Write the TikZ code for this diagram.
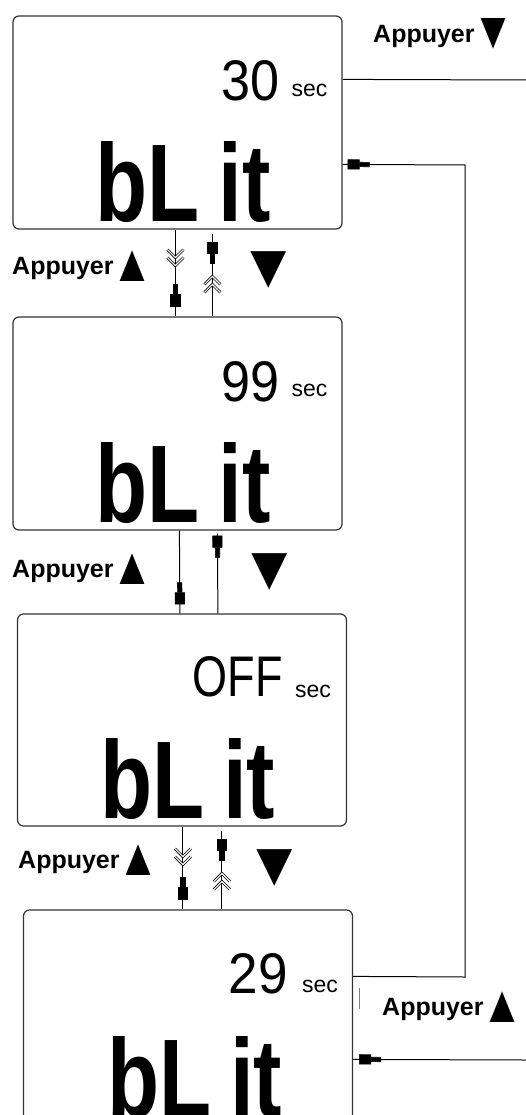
\documentclass[tikz,border=0pt]{standalone}
\usepackage{fontspec}
\setmainfont{Liberation Sans}
\usetikzlibrary{arrows.meta,decorations.markings,calc}
\newcommand\lcdnum[2]{\resizebox{#1}{40pt}{\fontsize{50}{50}\selectfont #2}}
\newcommand\lcdbig{\resizebox{175pt}{80pt}{\fontsize{100}{100}\selectfont\bfseries bL\hspace{0.22em}it}}
\newcommand\uptri{\kern-2pt\raisebox{-7pt}[18pt][7pt]{\scalebox{1.7}[2.1]{▲}}}
\newcommand\dntri{\kern-2pt\raisebox{-6pt}[18pt][6pt]{\scalebox{1.7}[2.1]{▼}}}
\tikzset{
  lcd/.style={draw=black!80, line width=1.2pt, rounded corners=6pt,
    minimum width=329pt, minimum height=213pt, inner sep=0pt},
  conn/.style={draw=black, line width=1pt},
  blk/.style={postaction={decorate, decoration={markings,
    mark=at position -#1 with {\arrow[line width=0.6pt]{Rectangle[length=10pt,width=5pt,sep=0pt]Rectangle[length=12pt,width=10pt,sep=0pt]}}}}},
  chev/.style={postaction={decorate, decoration={markings,
    mark=at position #1 with {\draw[line width=0.8pt, double=white, double distance=1.1pt]
      (-8pt,-8pt) -- (0pt,0pt) -- (-8pt,8pt) (-16pt,-8pt) -- (-8pt,0pt) -- (-16pt,8pt);}}}},
  lbl/.style={font=\bfseries\fontsize{25}{30}\selectfont, inner sep=0pt, anchor=base west},
  tri/.style={inner sep=0pt},
  secl/.style={font=\fontsize{23}{23}\selectfont, inner sep=0pt, anchor=base west},
  numl/.style={inner sep=0pt, anchor=north east},
  bigl/.style={inner sep=0pt, anchor=base west},
}
\begin{document}
\begin{tikzpicture}[x=1pt,y=-1pt]
\useasboundingbox (0,0) rectangle (526,1115);
\clip (0,0) rectangle (526,1115);
% boxes
\node[lcd] (b1) at (177.5,122.5) {};
\node[lcd] (b2) at (177.5,423.5) {};
\node[lcd, minimum height=212pt] (b3) at (182,720) {};
\node[lcd] (b4) at (188,1016.5) {};
% LCD contents
\node[numl] (n1) at ($(b1.north west)+(267,45)$) {\lcdnum{58pt}{30}};
\node[secl] (s1) at ($(b1.north west)+(279,81)$) {sec};
\node[bigl] (t1) at ($(b1.north west)+(83,206)$) {\lcdbig};
\node[numl] (n2) at ($(b2.north west)+(267,45)$) {\lcdnum{58pt}{99}};
\node[secl] (s2) at ($(b2.north west)+(279,80)$) {sec};
\node[bigl] (t2) at ($(b2.north west)+(83,206)$) {\lcdbig};
\node[numl] (n3) at ($(b3.north west)+(266,43)$) {\lcdnum{90pt}{OFF}};
\node[secl] (s3) at ($(b3.north west)+(278,84)$) {sec};
\node[bigl] (t3) at ($(b3.north west)+(83,205)$) {\lcdbig};
\node[numl] (n4) at ($(b4.north west)+(265,44)$) {\lcdnum{59pt}{29}};
\node[secl] (s4) at ($(b4.north west)+(279,83)$) {sec};
\node[bigl] (t4) at ($(b4.north west)+(84,207)$) {\lcdbig};
% labels
\node[lbl] (la) at (373,43) {Appuyer\dntri};
\node[lbl] (l1) at (12,274) {Appuyer\uptri};
\node[lbl] (l2) at (12,577) {Appuyer\uptri};
\node[lbl] (l3) at (18,868) {Appuyer\uptri};
\node[lbl] (lb) at (382,1015) {Appuyer\uptri};
\node[tri] (d1) at (268.5,270) {\scalebox{1.85}[1.9]{\fontsize{33}{33}\selectfont ▼}};
\node[tri] (d2) at (270,572) {\scalebox{1.85}[1.9]{\fontsize{33}{33}\selectfont ▼}};
\node[tri] (d3) at (274.5,868) {\scalebox{1.85}[1.9]{\fontsize{33}{33}\selectfont ▼}};
% coordinates
\coordinate (outT) at (526,80);
\coordinate (loopB) at (465,977);
\coordinate (loopT) at (465,165);
\coordinate (inB) at (526,1060);
% vertical connectors
\draw[conn, chev=36pt, blk=10pt] ($(b1.south west)+(163,0)$) -- ($(b2.north west)+(163,0)$);
\draw[conn, chev=40pt, blk=8pt] ($(b2.north west)+(200,0)$) -- ($(b1.south west)+(200,4)$);
\draw[conn, blk=9pt] ($(b2.south west)+(167,0)$) -- ($(b3.north west)+(163,0)$);
\draw[conn, blk=2pt] ($(b3.north west)+(201,0)$) -- ($(b2.south west)+(205,3)$);
\draw[conn, chev=38pt, blk=10pt] ($(b3.south west)+(166,0)$) -- ($(b4.north west)+(160,0)$);
\draw[conn, chev=36pt, blk=8pt] ($(b4.north west)+(199,0)$) -- ($(b3.south west)+(205,4)$);
% right side connectors
\draw[conn] ($(b1.north east)+(0,64)$) -- (outT);
\draw[conn, blk=5pt] ($(b4.north east)+(0,67)$) -- (loopB) -- (loopT) -- ($(b1.north east)+(0,149)$);
\draw[conn, blk=6pt] (inB) -- ($(b4.north east)+(0,150)$);
\draw[black!50, line width=0.6pt] (359,988) -- (359,1009);
\end{tikzpicture}
\end{document}
